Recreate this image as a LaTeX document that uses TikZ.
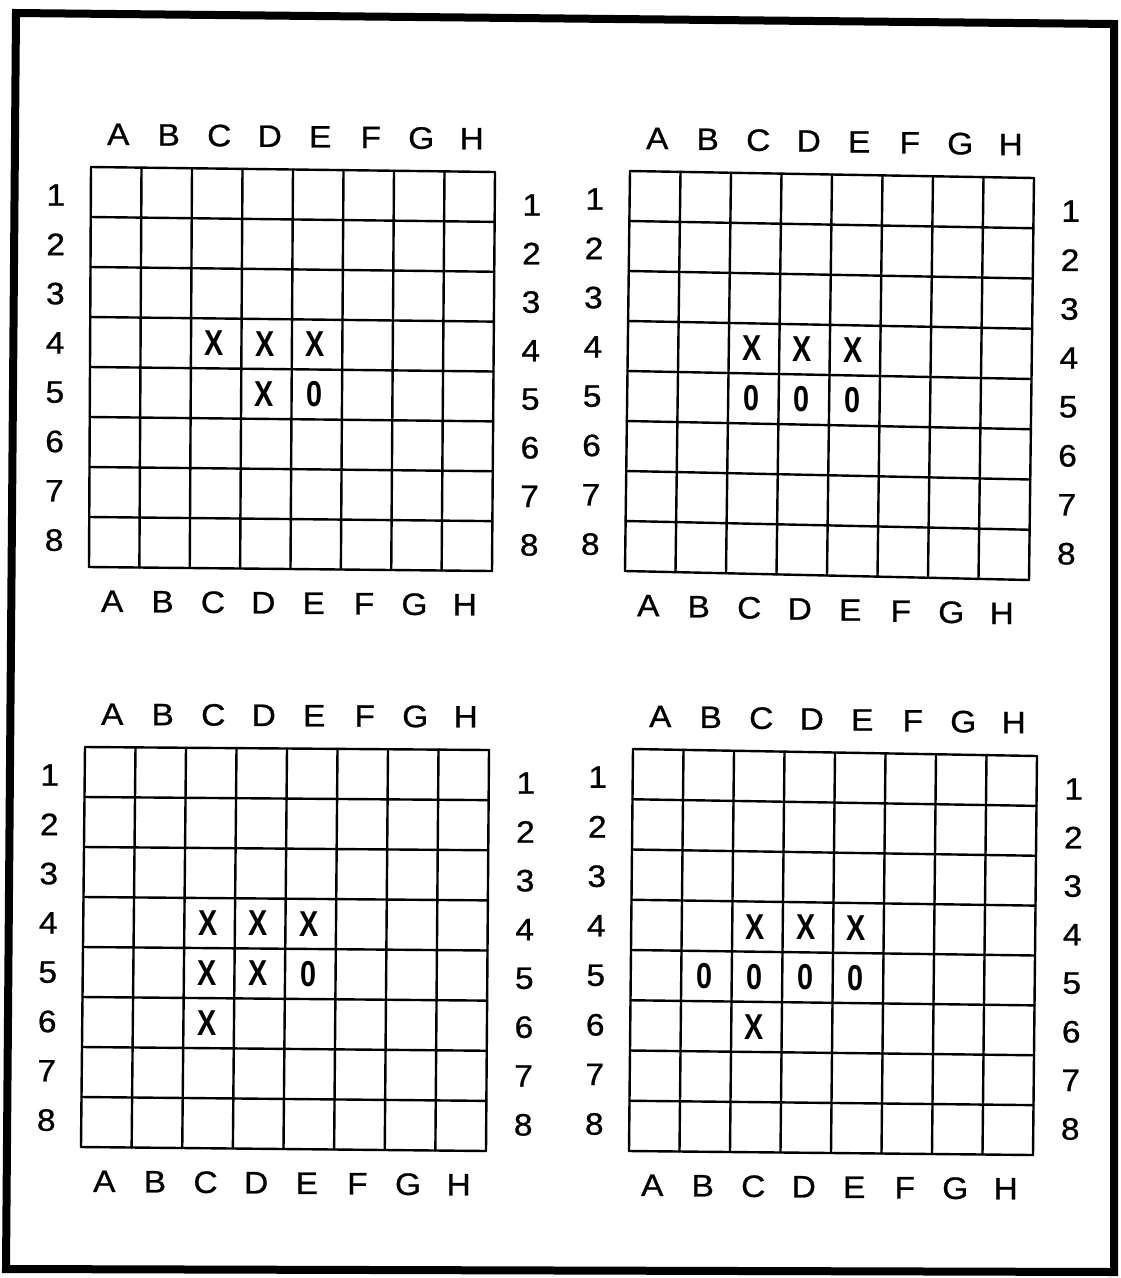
\documentclass[tikz,border=0pt]{standalone}
\usepackage{fontspec}
\setmainfont{Liberation Sans}[FakeStretch=1.08,FakeBold=0.8]
\newfontfamily\markfont[FakeStretch=0.8]{Liberation Sans}
\usetikzlibrary{calc}
\tikzset{
  gridline/.style={line width=2.4pt, line cap=round},
  framestyle/.style={line width=8pt, line join=miter},
  lbl/.style={font=\fontsize{31}{33}\selectfont, inner sep=0pt},
  markstyle/.style={font=\markfont\bfseries\fontsize{36}{38}\selectfont, inner sep=0pt},
}
\newcommand\drawboard[1]{%
  \foreach \i in {0,...,8} {
    \pgfmathsetmacro\gf{\i/8}
    \draw[gridline] ($(#1tl)!\gf!(#1bl)$) -- ($(#1tr)!\gf!(#1br)$);
    \draw[gridline] ($(#1tl)!\gf!(#1tr)$) -- ($(#1bl)!\gf!(#1br)$);
  }
  \foreach \k/\c in {1/A,2/B,3/C,4/D,5/E,6/F,7/G,8/H} {
    \pgfmathsetmacro\gf{(\k-0.5)/8}
    \node[lbl] (#1T\c) at ($(#1tl)!\gf!(#1tr) + (2,-33)$) {\c};
    \node[lbl] (#1B\c) at ($(#1bl)!\gf!(#1br) + (-2,34)$) {\c};
  }
  \foreach \r in {1,...,8} {
    \pgfmathsetmacro\gf{(\r-0.5)/8}
    \pgfmathsetmacro\dyl{3-(\r-1)*0.7}
    \pgfmathsetmacro\dyr{8-(\r-1)*1.3}
    \node[lbl] (#1L\r) at ($(#1tl)!\gf!(#1bl) + (-35,\dyl)$) {\r};
    \node[lbl] (#1R\r) at ($(#1tr)!\gf!(#1br) + (37,\dyr)$) {\r};
  }
}
\newcommand\putmark[4]{%
  \pgfmathsetmacro\mkf{(#2-0.5)/8}
  \pgfmathsetmacro\mkg{(#3-0.5)/8}
  \coordinate (#1mt) at ($(#1tl)!\mkf!(#1tr)$);
  \coordinate (#1mb) at ($(#1bl)!\mkf!(#1br)$);
  \node[markstyle] (#1m#2#3) at ($(#1mt)!\mkg!(#1mb) + (-2,0)$) {#4};
}
\begin{document}
\begin{tikzpicture}[x=1pt, y=-1pt]
  \useasboundingbox (0,0) rectangle (1120,1278);
  % outer frame
  \draw[framestyle] (16,13) -- (1114,24) -- (1114,1272) -- (6,1269) -- cycle;
  % board corners
  \coordinate (gatl) at (91,167);  \coordinate (gatr) at (495,172);
  \coordinate (gabl) at (89,567);  \coordinate (gabr) at (492,571);
  \coordinate (gbtl) at (630,171); \coordinate (gbtr) at (1034,178);
  \coordinate (gbbl) at (625,571); \coordinate (gbbr) at (1029,580);
  \coordinate (gctl) at (85,747);  \coordinate (gctr) at (489,750);
  \coordinate (gcbl) at (81,1147); \coordinate (gcbr) at (486,1151);
  \coordinate (gdtl) at (633,749); \coordinate (gdtr) at (1037,756);
  \coordinate (gdbl) at (629,1151);\coordinate (gdbr) at (1033,1155);
  \drawboard{ga}
  \drawboard{gb}
  \drawboard{gc}
  \drawboard{gd}
  % board 1
  \putmark{ga}{3}{4}{X}\putmark{ga}{4}{4}{X}\putmark{ga}{5}{4}{X}
  \putmark{ga}{4}{5}{X}\putmark{ga}{5}{5}{0}
  % board 2
  \putmark{gb}{3}{4}{X}\putmark{gb}{4}{4}{X}\putmark{gb}{5}{4}{X}
  \putmark{gb}{3}{5}{0}\putmark{gb}{4}{5}{0}\putmark{gb}{5}{5}{0}
  % board 3
  \putmark{gc}{3}{4}{X}\putmark{gc}{4}{4}{X}\putmark{gc}{5}{4}{X}
  \putmark{gc}{3}{5}{X}\putmark{gc}{4}{5}{X}\putmark{gc}{5}{5}{0}
  \putmark{gc}{3}{6}{X}
  % board 4
  \putmark{gd}{3}{4}{X}\putmark{gd}{4}{4}{X}\putmark{gd}{5}{4}{X}
  \putmark{gd}{2}{5}{0}\putmark{gd}{3}{5}{0}\putmark{gd}{4}{5}{0}\putmark{gd}{5}{5}{0}
  \putmark{gd}{3}{6}{X}
\end{tikzpicture}
\end{document}
